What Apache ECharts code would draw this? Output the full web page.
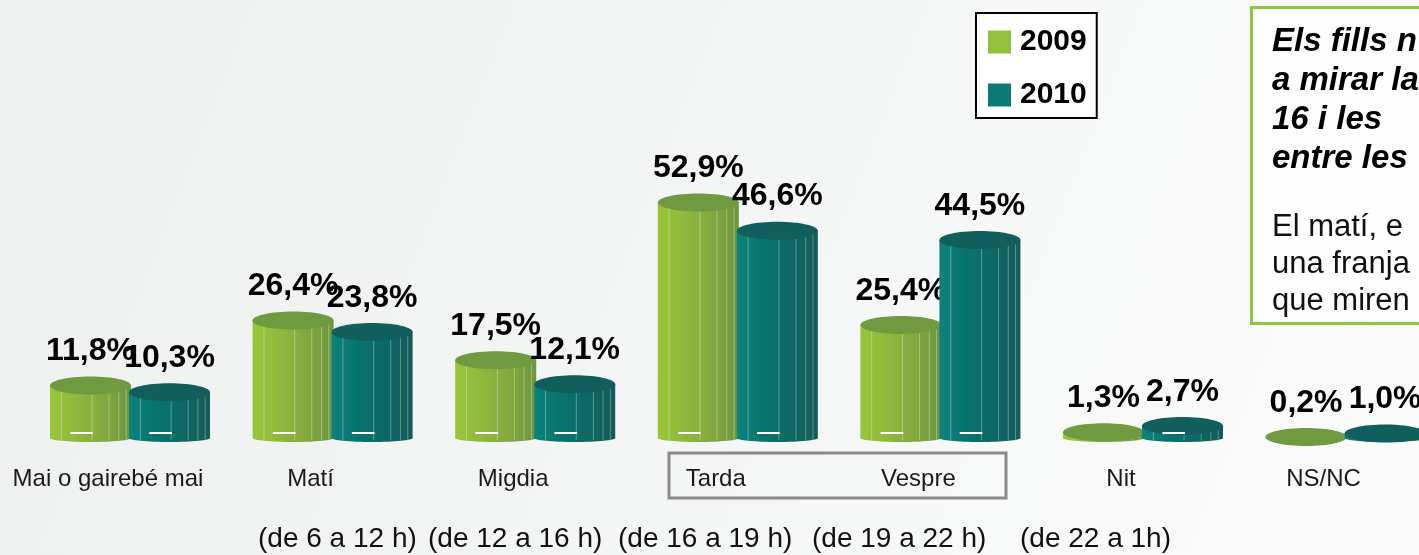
<!DOCTYPE html>
<html>
<head>
<meta charset="utf-8">
<title>Franja horària</title>
<script src="https://cdn.jsdelivr.net/npm/echarts@6/dist/echarts.min.js"></script>
<style>
  html, body { margin: 0; padding: 0; }
  #chart { width: 1419px; height: 555px; }
</style>
</head>
<body>
<div id="chart"></div>
<script>
// Time slots and the share (%) of each answer, per year
const categories = ['Mai o gairebé mai', 'Matí', 'Migdia', 'Tarda', 'Vespre', 'Nit', 'NS/NC'];
const values2009 = [11.8, 26.4, 17.5, 52.9, 25.4, 1.3, 0.2];
const values2010 = [10.3, 23.8, 12.1, 46.6, 44.5, 2.7, 1.0];
const timeRanges = ['(de 6 a 12 h)', '(de 12 a 16 h)', '(de 16 a 19 h)', '(de 19 a 22 h)', '(de 22 a 1h)'];
const boldNote = ['Els fills n', 'a mirar la', '16 i les', 'entre les'];
const plainNote = ['El matí, e', 'una franja', 'que miren'];

const FONT = '"Liberation Sans", Arial, Helvetica, sans-serif';

// horizontal layout: first slot centre and slot pitch in pixels
const FIRST_CENTER = 130;
const PITCH = 202.6;
const CANVAS_W = 1419;

const palettes = [
  { legend: '#92c13c', top: '#6f9a3f',
    side: [[0, '#98c63b'], [0.3, '#90ba3d'], [0.62, '#85ab3f'], [1, '#6c963f']] },
  { legend: '#0b7a74', top: '#115f5c',
    side: [[0, '#0d827d'], [0.3, '#08746f'], [0.62, '#0c6a66'], [1, '#165b58']] }
];

function fmt(v) {
  return v.toFixed(1).replace('.', ',') + '%';
}

// Cylinder-like bar: shaded side, rounded bottom, flat elliptic top and value label
function renderCylinder(params, api) {
  const idx = api.value(0);
  const v = api.value(1);
  const top = api.coord([idx, v]);
  const base = api.coord([idx, 0]);
  const band = api.size([1, 0])[0];
  const w = band * 0.40;
  const dir = params.seriesIndex === 0 ? -1 : 1;
  const cx = top[0] + dir * band * 0.195;
  const x0 = cx - w / 2;
  const yTop = top[1];
  const yBase = base[1];
  const pal = palettes[params.seriesIndex];
  const sideFill = new echarts.graphic.LinearGradient(0, 0, 1, 0,
    pal.side.map(s => ({ offset: s[0], color: s[1] })));

  const children = [
    { type: 'ellipse', shape: { cx: cx, cy: yBase, rx: w / 2, ry: 4 }, style: { fill: sideFill } },
    { type: 'rect', shape: { x: x0, y: yTop, width: w, height: Math.max(yBase - yTop, 0) }, style: { fill: sideFill } }
  ];
  [0.14, 0.52, 0.73, 0.85, 0.94].forEach(f => {
    if (yBase - yTop > 4) {
      children.push({
        type: 'line',
        shape: { x1: x0 + w * f, y1: yTop, x2: x0 + w * f, y2: yBase + 2 },
        style: { stroke: 'rgba(255,255,255,0.32)', lineWidth: 1 }
      });
    }
  });
  children.push({
    type: 'ellipse', shape: { cx: cx, cy: yTop, rx: w / 2, ry: 9 },
    style: { fill: pal.top }
  });
  if (yBase - yTop > 12) {
    children.push({
      type: 'line',
      shape: { x1: x0 + w * 0.25, y1: yBase - 5, x2: x0 + w * 0.53, y2: yBase - 5 },
      style: { stroke: '#ffffff', lineWidth: 2 }
    });
  }
  children.push({
    type: 'text', x: cx, y: yTop - 34,
    style: {
      text: fmt(v), fill: '#000', fontSize: 32, fontWeight: 'bold', fontFamily: FONT,
      align: 'center', verticalAlign: 'middle'
    }
  });
  return { type: 'group', children: children };
}

const chart = echarts.init(document.getElementById('chart'));

const graphics = [
  // note box on the right
  { type: 'rect', left: 1250, top: 6, shape: { width: 320, height: 316 },
    style: { fill: 'rgba(255,255,255,0.7)', stroke: '#8dc63f', lineWidth: 3 }, z: 1 },
  // frame around Tarda / Vespre
  { type: 'rect', shape: { x: 669, y: 453, width: 337, height: 45 },
    style: { fill: 'none', stroke: '#8a8a8a', lineWidth: 3 }, z: 1 }
];
const boldBase = [53, 92, 131, 170];
boldNote.forEach((t, i) => {
  graphics.push({ type: 'text', x: 1272, y: boldBase[i] - 11.5, z: 2,
    style: { text: t, fill: '#000', fontSize: 33, fontWeight: 'bold', fontStyle: 'italic',
      fontFamily: FONT, align: 'left', verticalAlign: 'middle' } });
});
const plainBase = [238, 275, 312];
plainNote.forEach((t, i) => {
  graphics.push({ type: 'text', x: 1272, y: plainBase[i] - 11, z: 2,
    style: { text: t, fill: '#111', fontSize: 31, fontFamily: FONT,
      align: 'left', verticalAlign: 'middle' } });
});
const rangeX = [258, 428, 618, 812, 1020];
timeRanges.forEach((t, i) => {
  graphics.push({ type: 'text', x: rangeX[i], y: 539, z: 2,
    style: { text: t, fill: '#111', fontSize: 28, fontFamily: FONT,
      align: 'left', verticalAlign: 'middle' } });
});

chart.setOption({
  animation: false,
  backgroundColor: new echarts.graphic.LinearGradient(0, 0, 1, 1, [
    { offset: 0, color: '#edf0ee' },
    { offset: 1, color: '#fbfbfc' }
  ]),
  legend: {
    orient: 'vertical',
    left: 976, top: 13,
    padding: [14, 10, 8, 12],
    itemGap: 23,
    itemWidth: 23, itemHeight: 23,
    icon: 'rect',
    borderColor: '#000', borderWidth: 2,
    backgroundColor: '#ffffff',
    textStyle: { fontSize: 30, fontWeight: 'bold', color: '#000', fontFamily: FONT, lineHeight: 30, padding: [0, 0, 0, 4] },
    data: ['2009', '2010']
  },
  grid: { left: FIRST_CENTER, right: 0, top: 171, bottom: 117, containLabel: false },
  xAxis: {
    type: 'value',
    min: 0,
    max: (CANVAS_W - FIRST_CENTER) / PITCH,
    interval: 1,
    splitLine: { show: false },
    axisLine: { show: false },
    axisTick: { show: false },
    axisLabel: {
      margin: 29, fontSize: 24, color: '#1a1a1a', fontFamily: FONT,
      padding: [0, 44, 0, 0],
      showMinLabel: true, showMaxLabel: false,
      formatter: v => (Number.isInteger(v) && categories[v]) ? categories[v] : ''
    }
  },
  yAxis: { type: 'value', min: 0, max: 60, show: false },
  graphic: graphics,
  series: [
    { name: '2009', type: 'custom', renderItem: renderCylinder,
      itemStyle: { color: palettes[0].legend },
      encode: { x: 0, y: 1 }, clip: false,
      data: values2009.map((v, i) => [i, v]) },
    { name: '2010', type: 'custom', renderItem: renderCylinder,
      itemStyle: { color: palettes[1].legend },
      encode: { x: 0, y: 1 }, clip: false,
      data: values2010.map((v, i) => [i, v]) }
  ]
});
</script>
</body>
</html>
